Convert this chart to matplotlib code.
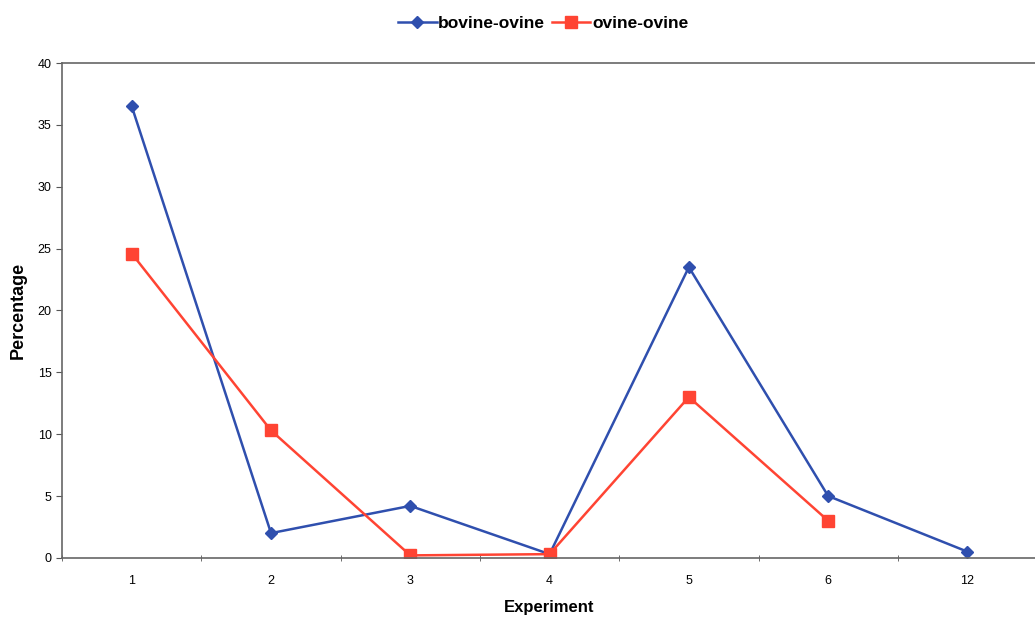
import numpy as np
from matplotlib import pyplot as plt

experiments = ['1', '2', '3', '4', '5', '6', '12']
bovine_ovine = [36.5, 2.0, 4.2, 0.3, 23.5, 5.0, 0.5]
ovine_ovine = [24.6, 10.3, 0.2, 0.3, 13.0, 3.0]

blue = '#2f4fae'
red = '#ff4433'

plt.rcParams['font.family'] = ['Liberation Sans', 'DejaVu Sans']

fig = plt.figure(figsize=(10.35, 6.24), dpi=100)
ax = fig.add_axes([0.06, 0.106, 0.942, 0.793])

x = np.arange(len(experiments))
ax.plot(x, bovine_ovine, color=blue, marker='D', markersize=6, linewidth=1.8,
        label='bovine-ovine')
ax.plot(x[:len(ovine_ovine)], ovine_ovine, color=red, marker='s', markersize=8,
        linewidth=1.8, label='ovine-ovine')

ax.set_xlim(-0.5, len(experiments) - 0.5)
ax.set_ylim(0, 40)
ax.set_yticks(range(0, 41, 5))
ax.set_xticks(x)
ax.set_xticklabels(experiments, fontsize=9)
ax.set_xticks(np.arange(-0.5, len(experiments)), minor=True)
ax.tick_params(axis='x', which='major', length=0, pad=12)
ax.tick_params(axis='x', which='minor', length=5, direction='inout', color='#555555')
ax.tick_params(axis='y', labelsize=9, length=4, color='#555555')

for side in ['left', 'bottom', 'top', 'right']:
    ax.spines[side].set_color('#666666')
    ax.spines[side].set_linewidth(1.2)

ax.set_ylabel('Percentage', fontsize=13, fontweight='bold', labelpad=8)
ax.set_xlabel('Experiment', fontsize=12, fontweight='bold', labelpad=10)

fig.legend(loc='upper center', bbox_to_anchor=(0.525, 1.0), ncol=2, frameon=False,
           prop={'size': 12.5, 'weight': 'bold'}, handlelength=2.2,
           handletextpad=0.1, columnspacing=0.4)

fig.savefig('out.png', dpi=100)
